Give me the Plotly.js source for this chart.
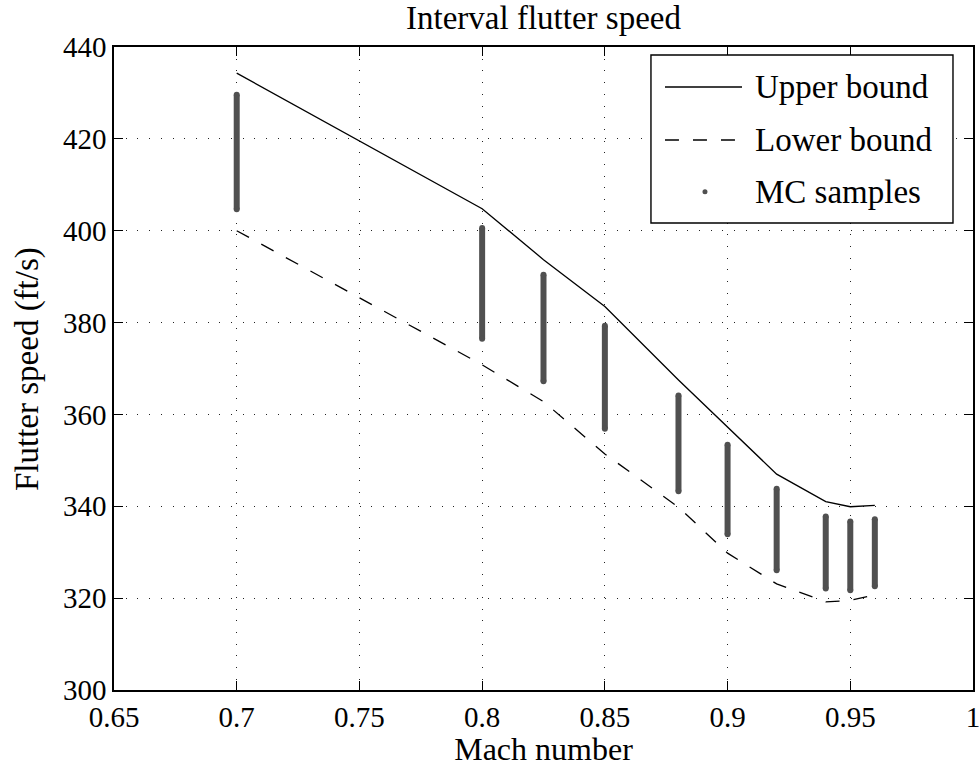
<!DOCTYPE html>
<html>
<head>
<meta charset="utf-8">
<script src="https://cdn.plot.ly/plotly-3.0.1.min.js"></script>
<style>html,body{margin:0;padding:0;background:#fff;}#chart{width:979px;height:767px;}</style>
</head>
<body>
<div id="chart"></div>
<script>
// Mach numbers at which the flutter speed was evaluated
const mach = [0.7, 0.8, 0.825, 0.85, 0.88, 0.9, 0.92, 0.94, 0.95, 0.96];
// Interval bounds of the flutter speed (ft/s)
const upperBound = [434.3, 404.8, 393.7, 383.5, 367.5, 357.3, 347.0, 341.0, 339.9, 340.2];
const lowerBound = [400.0, 370.8, 362.8, 351.4, 339.8, 329.8, 323.1, 319.2, 319.5, 320.7];
// Extent of the Monte Carlo sample clouds at each Mach number (ft/s)
const mcMin = [404.7, 376.5, 367.2, 356.9, 343.3, 333.9, 326.1, 322.1, 321.7, 322.6];
const mcMax = [429.6, 400.6, 390.4, 379.3, 364.1, 353.4, 343.8, 337.8, 336.7, 337.2];
// Axis ticks
const xTicks = [0.65, 0.7, 0.75, 0.8, 0.85, 0.9, 0.95, 1];
const xTickText = ['0.65', '0.7', '0.75', '0.8', '0.85', '0.9', '0.95', '1'];
const yTicks = [300, 320, 340, 360, 380, 400, 420, 440];
// Texts
const titleText = 'Interval flutter speed';
const xTitle = 'Mach number';
const yTitle = 'Flutter speed (ft/s)';
const legendLabels = ['Upper bound', 'Lower bound', 'MC samples'];

const FONT = 'Liberation Serif';
const MC_COLOR = '#505050';

// Build MC sample columns (one vertical cloud per Mach number)
const mcX = [], mcY = [];
mach.forEach((m, i) => {
  mcX.push(m, m, null);
  mcY.push(mcMin[i], mcMax[i], null);
});

const traces = [
  {
    x: mcX, y: mcY, type: 'scatter', mode: 'lines+markers', name: legendLabels[2],
    line: {color: MC_COLOR, width: 6},
    marker: {color: MC_COLOR, size: 6},
    connectgaps: false, hoverinfo: 'skip', showlegend: false
  },
  {
    x: mach, y: upperBound, type: 'scatter', mode: 'lines', name: legendLabels[0],
    line: {color: '#000', width: 1.3}, showlegend: false
  },
  {
    x: mach, y: lowerBound, type: 'scatter', mode: 'lines', name: legendLabels[1],
    line: {color: '#000', width: 1.3, dash: '14px,14px'}, showlegend: false
  }
];

// Custom MATLAB-style legend (paper coordinates)
const L = {x0: 0.6251, x1: 0.9767, y0: 0.7263, y1: 0.9876,
           sx0: 0.6414, sx1: 0.7311, tx: 0.7439,
           rows: [0.9378, 0.8554, 0.7747], dotx: 0.688};
const shapes = [
  {type: 'rect', xref: 'paper', yref: 'paper', x0: L.x0, x1: L.x1, y0: L.y0, y1: L.y1,
   fillcolor: '#fff', line: {color: '#000', width: 1.4}, layer: 'above'},
  {type: 'line', xref: 'paper', yref: 'paper', x0: L.sx0, x1: L.sx1, y0: L.rows[0], y1: L.rows[0],
   line: {color: '#000', width: 1.3}, layer: 'above'},
  {type: 'line', xref: 'paper', yref: 'paper', x0: L.sx0, x1: L.sx1, y0: L.rows[1], y1: L.rows[1],
   line: {color: '#000', width: 1.3, dash: '14px,14px'}, layer: 'above'},
  {type: 'circle', xref: 'paper', yref: 'paper', xsizemode: 'pixel', ysizemode: 'pixel',
   xanchor: L.dotx, yanchor: L.rows[2], x0: -2.5, x1: 2.5, y0: -2.5, y1: 2.5,
   fillcolor: MC_COLOR, line: {color: MC_COLOR, width: 0}, layer: 'above'}
];
const annotations = legendLabels.map((t, i) => ({
  text: t, xref: 'paper', yref: 'paper', x: L.tx, y: L.rows[i],
  xanchor: 'left', yanchor: 'middle', showarrow: false,
  font: {family: FONT, size: 33, color: '#000'}
}));
// y-axis title placed like MATLAB's ylabel
annotations.push({
  text: yTitle, xref: 'paper', yref: 'paper', x: -0.1007, y: 0.5,
  xanchor: 'center', yanchor: 'middle', textangle: -90, showarrow: false,
  font: {family: FONT, size: 33, color: '#000'}
});

const axisCommon = {
  showline: true, linecolor: '#000', linewidth: 1.5, mirror: 'ticks',
  ticks: 'inside', ticklen: 9, tickwidth: 1.3, tickcolor: '#000',
  showgrid: true, gridcolor: '#222', gridwidth: 1, griddash: '1px,10.7px',
  zeroline: false, tickfont: {family: FONT, size: 29, color: '#000'},
  ticklabeloverflow: 'allow', ticklabelstandoff: 0
};

const layout = {
  width: 979, height: 767,
  margin: {l: 114, r: 6, t: 47, b: 77},
  paper_bgcolor: '#fff', plot_bgcolor: '#fff',
  font: {family: FONT, color: '#000'},
  showlegend: false,
  title: {text: titleText, font: {family: FONT, size: 33, color: '#000'},
          x: 0.5, xref: 'paper', y: 1 - 17 / 767, yref: 'container', yanchor: 'middle'},
  xaxis: Object.assign({}, axisCommon, {
    range: [0.65, 1], tickvals: xTicks, ticktext: xTickText,
    title: {text: xTitle, font: {family: FONT, size: 32, color: '#000'}, standoff: 6}
  }),
  yaxis: Object.assign({}, axisCommon, {
    range: [300, 440], tickvals: yTicks
  }),
  shapes: shapes,
  annotations: annotations
};

Plotly.newPlot('chart', traces, layout, {displayModeBar: false, responsive: false});
</script>
</body>
</html>
